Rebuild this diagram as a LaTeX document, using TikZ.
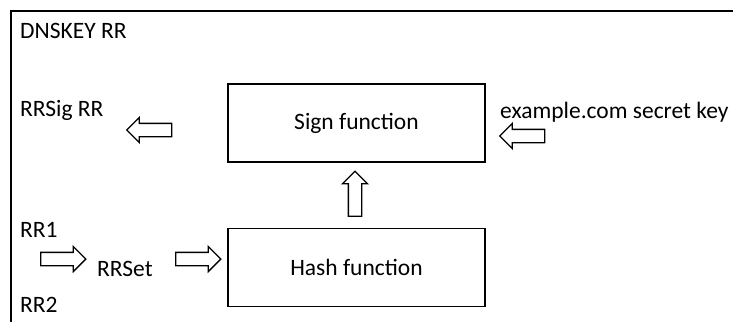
\documentclass[tikz,border=0pt]{standalone}
\usepackage{fontspec}
\setmainfont{Carlito}
\usetikzlibrary{shapes.arrows}
\begin{document}
\begin{tikzpicture}[x=1pt,y=-1pt,
  lbl/.style={inner sep=0pt,font=\fontsize{23.5}{26}\selectfont},
  fbox/.style={draw,line width=1.6pt,minimum width=257pt,minimum height=78pt,inner sep=0pt,font=\fontsize{23.5}{26}\selectfont},
  barrow/.style={single arrow,draw,line width=1.3pt,minimum height=45pt,minimum width=24pt,inner sep=6pt,single arrow head extend=6pt,single arrow tip angle=90}]
\useasboundingbox (0,0) rectangle (733,322);
\coordinate (tl) at (11,11);
\coordinate (tr) at (733,11);
\coordinate (bl) at (11,322);
\draw[line width=1.6pt] (tr) -- (tl) -- (bl);
\node[lbl,anchor=west] (dnskey) at (20,31) {DNSKEY RR};
\node[lbl,anchor=west] (rrsig) at (20,110) {RRSig RR};
\node[fbox] (sign) at (356.5,123) {Sign function};
\node[fbox] (hash) at (356.5,267.5) {Hash function};
\node[lbl,anchor=west] (key) at (500,112) {example.com secret key};
\node[lbl,anchor=west] (rr1) at (20,230) {RR1};
\node[lbl,anchor=west] (rrset) at (97,269) {RRSet};
\node[lbl,anchor=west] (rr2) at (20,305) {RR2};
\node[barrow,shape border rotate=180] (a1) at (152.5,130) {};
\node[barrow,shape border rotate=180] (a2) at (525.5,136) {};
\node[barrow,shape border rotate=90] (a3) at (355,197) {};
\node[barrow] (a4) at (60,259) {};
\node[barrow] (a5) at (195,259) {};
\end{tikzpicture}
\end{document}
